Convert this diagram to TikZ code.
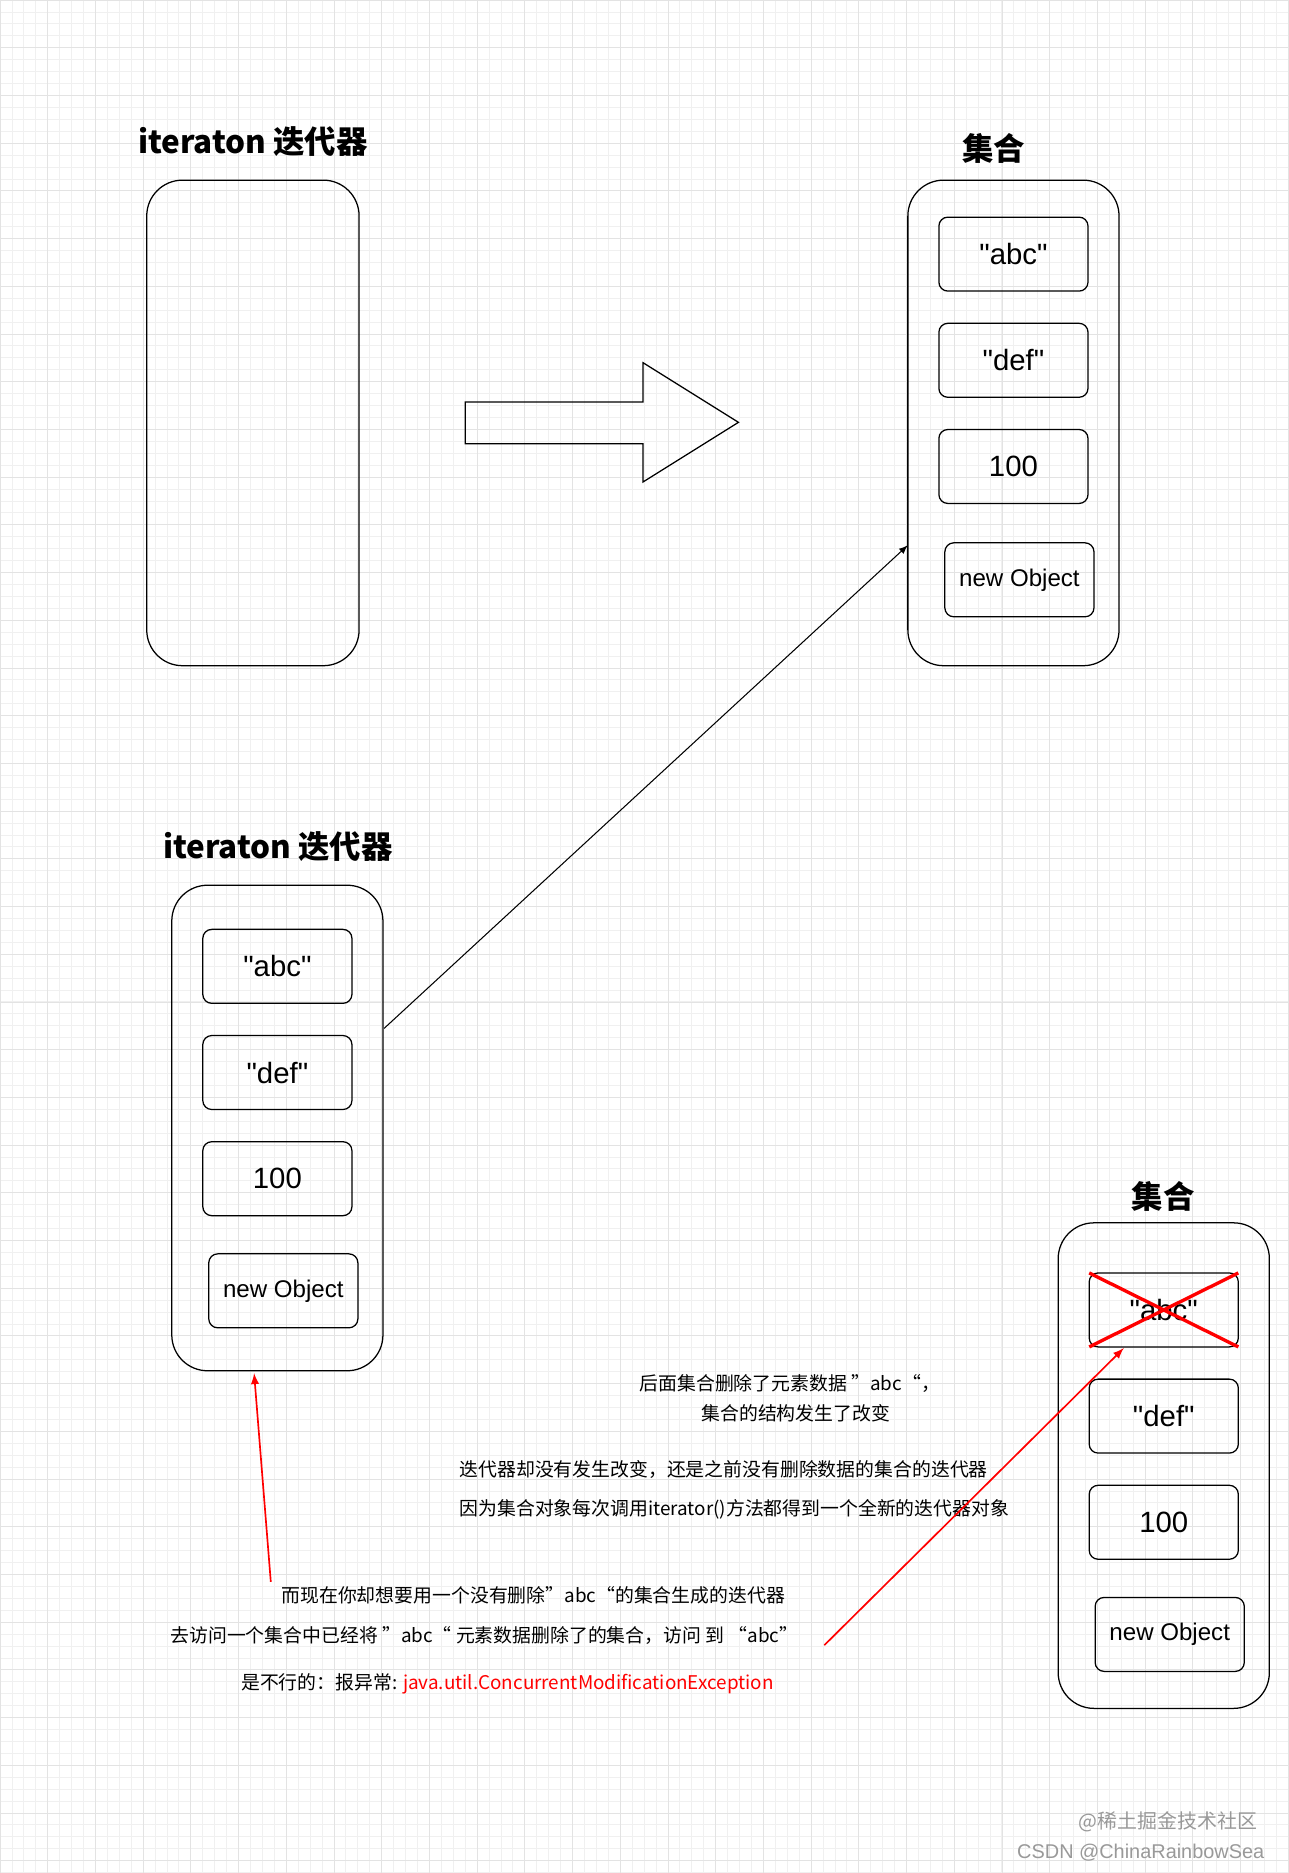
\documentclass[tikz,border=0pt]{standalone}
\usepackage{fontspec}
\setmainfont{Liberation Sans}[Ligatures=TeXOff]
\newfontfamily\cjk{Noto Sans CJK SC}
\newcommand{\qq}{"}
\begin{document}
\begin{tikzpicture}[x=0.02cm,y=-0.02cm,
 outer/.style={draw,rounded corners=0.6cm,line width=0.6pt},
 item/.style={draw,rounded corners=0.15cm,line width=0.6pt},
 ttl/.style={font=\cjk\fontsize{15}{18}\selectfont\bfseries},
 big/.style={font=\fontsize{14}{16}\selectfont},
 sml/.style={font=\fontsize{11.5}{14}\selectfont},
 note/.style={font=\cjk\fontsize{9}{11}\selectfont},
 redarr/.style={draw=red,line width=0.8pt,-latex}]
\fill[white] (0,0) rectangle (1080,1570);
\useasboundingbox (0,0) rectangle (1080,1570);
\draw[black!6,step=0.2cm] (0,0) grid (1080,1570);
\draw[black!11,step=0.8cm] (0,0) grid (1080,1570);
% top-left
\node[ttl] (t1) at (212,119) {iteraton 迭代器};
\draw[outer] (123,151) rectangle (301,558);
% big arrow
\draw[line width=0.6pt] (390,337) -- (539,337) -- (539,304) -- (619,354) -- (539,404) -- (539,372) -- (390,372) -- cycle;
% top-right
\node[ttl] (t2) at (833,124) {集合};
\draw[outer] (761,151) rectangle (938,558);
\coordinate (c2in) at (761,457);
\draw[item] (787,182) rectangle node[big]{\qq abc\qq} (912,244);
\draw[item] (787,271) rectangle node[big]{\qq def\qq} (912,333);
\draw[item] (787,360) rectangle node[big]{100} (912,422);
\draw[item] (792,455) rectangle node[sml]{new Object} (917,517);
% bottom-left
\node[ttl] (t3) at (233,710) {iteraton 迭代器};
\draw[outer] (144,742) rectangle (321,1149);
\coordinate (c3out) at (322,862);
\coordinate (c3bot) at (213,1151);
\draw[item] (170,779) rectangle node[big]{\qq abc\qq} (295,841);
\draw[item] (170,868) rectangle node[big]{\qq def\qq} (295,930);
\draw[item] (170,957) rectangle node[big]{100} (295,1019);
\draw[item] (175,1051) rectangle node[sml]{new Object} (300,1113);
\draw[line width=0.5pt,-latex] (c3out) -- (c2in);
% bottom-right
\node[ttl] (t4) at (975,1003) {集合};
\draw[outer] (887,1025) rectangle (1064,1432);
\draw[item] (913,1067) rectangle node[big]{\qq abc\qq} (1038,1129);
\draw[red,line width=1.6pt] (913,1067) -- (1038,1129) (913,1129) -- (1038,1067);
\coordinate (xabc) at (942,1130);
\draw[item] (913,1156) rectangle node[big]{\qq def\qq} (1038,1218);
\draw[item] (913,1245) rectangle node[big]{100} (1038,1307);
\draw[item] (918,1339) rectangle node[sml]{new Object} (1043,1401);
% notes
\node[note] (n1) at (662,1160) {后面集合删除了元素数据 ”abc“，};
\node[note] (n2) at (667,1185) {集合的结构发生了改变};
\node[note,anchor=west] (n3) at (379,1232) {迭代器却没有发生改变，还是之前没有删除数据的集合的迭代器};
\node[note,anchor=west] (n4) at (379,1265) {因为集合对象每次调用iterator()方法都得到一个全新的迭代器对象};
\node[note] (n5) at (447,1337) {而现在你却想要用一个没有删除”abc“的集合生成的迭代器};
\node[note] (n6) at (406,1371) {去访问一个集合中已经将 ”abc“ 元素数据删除了的集合，访问 到 “abc”};
\node[note,anchor=west] (n7) at (196,1411) {是不行的：报异常: \textcolor{red}{java.util.ConcurrentModificationException}};
\coordinate (r1s) at (227,1326);
\coordinate (r2s) at (691,1379);
\draw[redarr] (r1s) -- (c3bot);
\draw[redarr] (r2s) -- (xabc);
% watermark
\node[text=black!40,font=\cjk\fontsize{9.5}{12}\selectfont] (w1) at (979,1527) {@稀土掘金技术社区};
\node[text=black!40,font=\fontsize{9.5}{12}\selectfont,anchor=east] (w2) at (1066,1553) {CSDN @ChinaRainbowSea};
\end{tikzpicture}
\end{document}
